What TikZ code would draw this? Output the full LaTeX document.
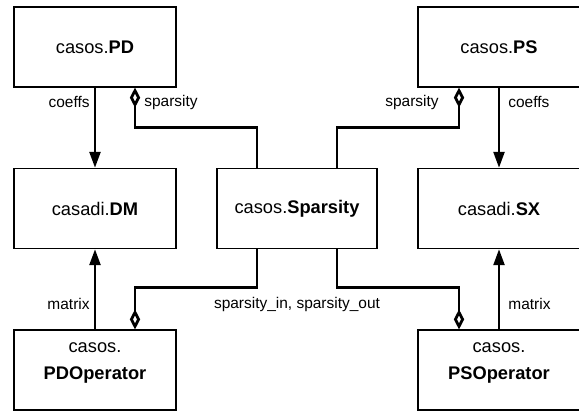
\documentclass[tikz,border=0pt]{standalone}
\usepackage{fontspec}
\setmainfont{Liberation Sans}
\usetikzlibrary{arrows.meta}

\begin{document}
\begin{tikzpicture}[
        box/.style={draw,line width=0.9pt,minimum width=4.05cm,minimum height=2cm,inner sep=0pt,font=\fontsize{13}{19}\selectfont},
        boxtxt/.style={align=center,inner sep=0pt,font=\fontsize{13}{19.2}\selectfont},
        lbl/.style={inner sep=0pt,font=\fontsize{11}{13}\selectfont},
        has/.style={line width=2pt,-{Triangle[length=0.4cm,width=0.27cm]}},
        part/.style={line width=2pt,{Diamond[open,length=0.5cm,width=0.26cm]}-}]
        \useasboundingbox (0,0) rectangle (14.475,10.35);
        \node[box] (pd) at (2.375,9.175) {casos.\textbf{PD}};
        \node[box] (ps) at (12.475,9.175) {casos.\textbf{PS}};
        \node[box] (dm) at (2.375,5.1375) {casadi.\textbf{DM}};
        \node[box,minimum width=4cm] (sp) at (7.425,5.1375) {casos.\textbf{Sparsity}};
        \node[box] (sx) at (12.475,5.1375) {casadi.\textbf{SX}};
        \node[box] (pdop) at (2.375,1.1) {};
        \node[boxtxt] (pdoptxt) at ([yshift=0.17cm]pdop.center) {casos.\\\textbf{PDOperator}};
        \node[box] (psop) at (12.475,1.1) {};
        \node[boxtxt] (psoptxt) at ([yshift=0.17cm]psop.center) {casos.\\\textbf{PSOperator}};
        \draw[has] (pd) -- node[lbl,left=0.1cm,pos=0.185] (pdcoeffs) {coeffs} (dm);
        \draw[has] (ps) -- node[lbl,right=0.2cm,pos=0.185] (pscoeffs) {coeffs} (sx);
        \draw[has] (pdop) -- node[lbl,left=0.1cm,pos=0.3125] (pdmatrix) {matrix} (dm);
        \draw[has] (psop) -- node[lbl,right=0.2cm,pos=0.3125] (psmatrix) {matrix} (sx);
        \draw[part] ([xshift=1cm]pd.south) -- node[lbl,right=0.2cm,pos=0.375] (pdsparsity) {sparsity} ++(0,-1) -| ([xshift=-1cm]sp.north);
        \draw[part] ([xshift=-1cm]ps.south) -- node[lbl,left=0.475cm,pos=0.375] (pssparsity) {sparsity} ++(0,-1) -| ([xshift=1cm]sp.north);
        \draw[part] ([xshift=1cm]pdop.north) -- ++(0,1.05) -| ([xshift=-1cm]sp.south);
        \draw[part] ([xshift=-1cm]psop.north) -- ++(0,1.05) -| ([xshift=1cm]sp.south);
        \node[lbl] (spinout) at (7.425,2.75) {sparsity\_in, sparsity\_out};
    \end{tikzpicture}
\end{document}
